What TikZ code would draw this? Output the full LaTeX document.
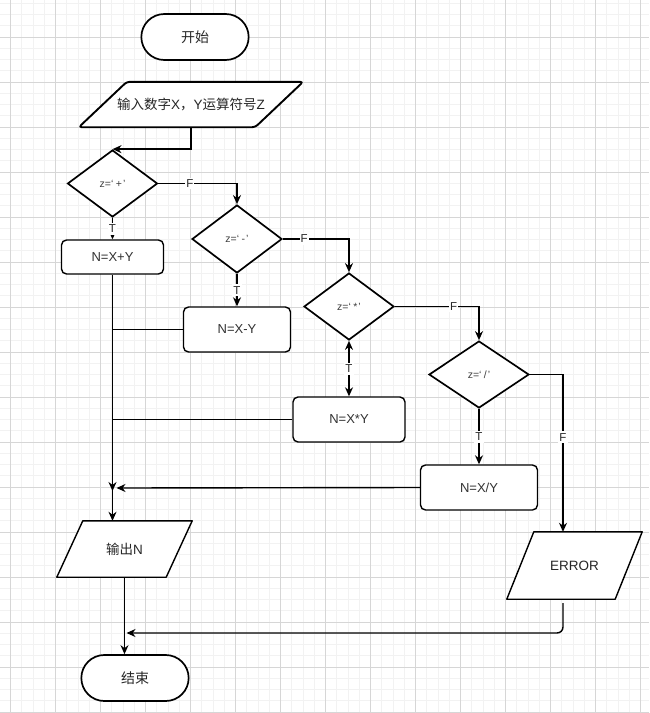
\documentclass[tikz,border=0pt]{standalone}
\usepackage{fontspec}
\setmainfont{Liberation Sans}
\newfontfamily\cjk{Noto Sans CJK SC}
\usetikzlibrary{shapes.geometric,shapes.misc,arrows.meta,positioning}
\pgfdeclarelayer{grid}
\pgfdeclarelayer{shade}
\pgfsetlayers{grid,shade,main}

\begin{document}
\begin{tikzpicture}[
		x=1pt, y=-1pt,
		thick,
		terminal/.style={rounded rectangle, draw, fill=white, line width=1.7pt, minimum width=114pt, minimum height=46pt, text=black!85, font=\cjk\fontsize{14}{16}\selectfont},
		process/.style={rectangle, draw, fill=white, rounded corners=5pt, line width=1.4pt, minimum height=45pt, text=black!80, font=\fontsize{13}{15}\selectfont},
		decision/.style={diamond, draw, fill=white, line width=1.7pt, inner sep=0pt, minimum width=90pt, minimum height=67pt, text=black!75, font=\fontsize{10.5}{12}\selectfont},
		iobox/.style={rectangle, inner sep=0pt, text=black!85, font=\fontsize{13.5}{15}\selectfont},
		ioline/.style={draw, fill=white, line width=1.4pt, line join=round},
		flow/.style={-{Stealth[length=9pt,width=8pt]}, line width=1.4pt},
		tag/.style={fill=white, inner xsep=1pt, inner ysep=2pt, text=black!85, font=\fontsize{11.5}{13}\selectfont},
		minorgrid/.style={black!5, line width=0.6pt},
		majorgrid/.style={black!16, line width=0.8pt}
	]
	\useasboundingbox (0,0) rectangle (649,713);

	% grid
	\begin{pgfonlayer}{grid}
		\fill[white] (0,0) rectangle (649,713);
		\foreach \i in {0,...,58} \draw[minorgrid] ({-0.75+11.25*\i},0) -- ++(0,713);
		\foreach \j in {0,...,64} \draw[minorgrid] (0,{-8+11.25*\j}) -- ++(649,0);
		\foreach \i in {0,...,14} \draw[majorgrid] ({10.5+45*\i},0) -- ++(0,713);
		\foreach \j in {0,...,15} \draw[majorgrid] (0,{37+45*\j}) -- ++(649,0);
	\end{pgfonlayer}

	\node[terminal] (start) at (195,37) {开始};
	\node[iobox, minimum width=224pt, minimum height=45pt] (inp) at (191,104.5) {{\cjk 输入数字}X{\cjk ，}Y{\cjk 运算符号}Z};

	\node[decision] (plus) at (112.5,183.5) {z=‘\hspace{2.5pt}+\hspace{1pt}’};
	\node[decision, minimum height=68pt] (minus) at (237,239) {z=‘\hspace{2.5pt}-\hspace{1pt}’};
	\node[decision] (times) at (349,306.5) {z=‘\hspace{2.5pt}*\hspace{1pt}’};
	\node[decision, minimum width=100pt] (over) at (479,374.5) {z=‘\hspace{2.5pt}/\hspace{1pt}’};

	\node[process, minimum width=102pt, minimum height=34pt] (add) at (112.5,257) {N=X+Y};
	\node[process, minimum width=107pt] (sub) at (237,329.5) {N=X-Y};
	\node[process, minimum width=112pt] (mul) at (349,419.5) {N=X*Y};
	\node[process, minimum width=117pt] (div) at (479,487.5) {N=X/Y};

	\node[iobox, minimum width=135pt, minimum height=56pt] (out) at (124.5,549) {{\cjk 输出}N};
	\node[iobox, minimum width=135pt, minimum height=67pt] (err) at (574.5,565.5) {ERROR};
	\node[terminal] (stop) at (135,678) {结束};

	% parallelograms behind the texts
	\begin{pgfonlayer}{shade}
		\draw[ioline, line width=1.9pt, rounded corners=3pt] (inp.south west) -- ([xshift=-48pt]inp.south east) -- (inp.north east) -- ([xshift=48pt]inp.north west) -- cycle;
		\draw[ioline] (out.south west) -- ([xshift=-26pt]out.south east) -- (out.north east) -- ([xshift=26pt]out.north west) -- cycle;
		\draw[ioline] (err.south west) -- ([xshift=-27pt]err.south east) -- (err.north east) -- ([xshift=27pt]err.north west) -- cycle;
	\end{pgfonlayer}

	\coordinate (merge) at (112.5,488);
	\coordinate (outin) at (add.south |- out.north);
	\coordinate (endjoin) at (out.south |- 0,633);

	\draw[flow] (inp.south) |- (plus.north);
	\draw[flow] (plus.south) -- node[tag] {T} (add.north);
	\draw[flow] (plus.east) -| node[tag, pos=0.2] {F} (minus.north);
	\draw[flow] (minus.south) -- node[tag] {T} (sub.north);
	\draw[flow] (minus.east) -| node[tag, pos=0.16] {F} (times.north);
	\draw[{Stealth[length=9pt,width=8pt]}-{Stealth[length=9pt,width=8pt]}, line width=1.4pt] (times.south) -- node[tag] {T} (mul.north);
	\draw[flow] (times.east) -| node[tag, pos=0.35] {F} (over.north);
	\draw[flow] (over.south) -- node[tag] {T} (div.north);
	\draw[flow] (over.east) -| node[tag, pos=0.7] {F} ([xshift=-11.5pt]err.north);

	\draw[flow] (add.south) -- (outin);
	\draw[line width=1.4pt] (sub.west) -| (outin);
	\draw[flow] (mul.west) -| ([yshift=-3pt]merge);
	\draw[flow] (div.west) -- ([xshift=4pt]merge);

	\draw[flow] (out.south) -- (out.south |- stop.north);
	\draw[flow, rounded corners=6pt] ([xshift=-11.5pt,yshift=-4pt]err.south) |- ([xshift=2pt]endjoin);

\end{tikzpicture}
\end{document}
